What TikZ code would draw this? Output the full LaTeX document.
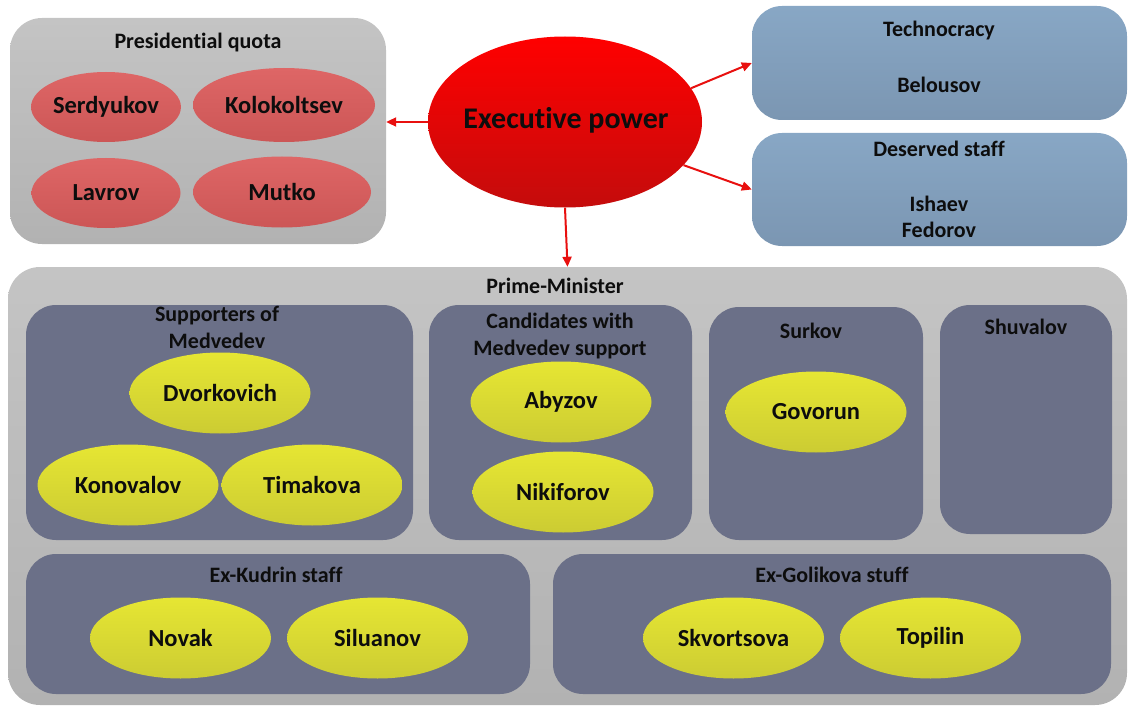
\documentclass[tikz,border=0pt]{standalone}
\usepackage{fontspec}
\setmainfont{Carlito}[Ligatures=CommonOff]
\usetikzlibrary{arrows.meta,shapes.geometric}
\definecolor{grayA}{HTML}{C4C4C4}
\definecolor{grayB}{HTML}{B2B2B2}
\definecolor{redA}{HTML}{DE6666}
\definecolor{redB}{HTML}{CC5656}
\definecolor{exA}{HTML}{FF0000}
\definecolor{exB}{HTML}{C40C0C}
\definecolor{blueA}{HTML}{88A7C5}
\definecolor{blueB}{HTML}{7B96B2}
\definecolor{slate}{HTML}{6B7088}
\definecolor{yelA}{HTML}{E6E633}
\definecolor{yelB}{HTML}{CCCC33}
\definecolor{txt}{HTML}{0D0D0D}
\definecolor{arr}{HTML}{E8100F}
\tikzset{
  graybox/.style={rectangle, rounded corners=32pt, top color=grayA, bottom color=grayB, draw=none, inner sep=0pt},
  bluebox/.style={rectangle, rounded corners=30pt, top color=blueA, bottom color=blueB, draw=none, inner sep=0pt},
  slatebox/.style={rectangle, rounded corners=30pt, fill=slate, draw=none, inner sep=0pt},
  redell/.style={ellipse, top color=redA, bottom color=redB, draw=none, inner sep=0pt, text=txt, font=\bfseries\fontsize{24.5}{28}\selectfont},
  yelell/.style={ellipse, top color=yelA, bottom color=yelB, draw=none, inner sep=0pt, minimum width=181pt, minimum height=81pt, text=txt, font=\bfseries\fontsize{24.5}{28}\selectfont},
  head/.style={text=txt, inner sep=0pt, align=center, font=\bfseries\fontsize{22}{27}\selectfont},
  link/.style={draw=arr, line width=2pt, -{Triangle[length=10pt,width=9pt]}}
}
\begin{document}
\begin{tikzpicture}[x=1pt,y=-1pt]
\useasboundingbox (0,0) rectangle (1128,706);
% Presidential quota
\node[graybox, minimum width=376pt, minimum height=226pt] (pq) at (198,131) {};
\node[head] (pqt) at (198,43) {Presidential quota};
\node[redell, minimum width=148pt, minimum height=70pt] (serd) at (106,107) {Serdyukov};
\node[redell, minimum width=182pt, minimum height=74pt] (kolo) at (284,105) {Kolokoltsev};
\node[redell, minimum width=149pt, minimum height=70pt] (lavr) at (106,193) {Lavrov};
\node[redell, minimum width=178pt, minimum height=71pt] (mutk) at (282,192) {Mutko};
% Executive power
\node[ellipse, top color=exA, bottom color=exB, minimum width=274pt, minimum height=171pt, inner sep=0pt] (exec) at (565,122) {};
\node[text=txt, inner sep=0pt, font=\bfseries\fontsize{30}{34}\selectfont] (exect) at (566,120) {Executive power};
% Technocracy
\node[bluebox, minimum width=375pt, minimum height=114pt] (tech) at (939.5,63) {};
\node[head] (techt) at (939,31) {Technocracy};
\node[head] (belo) at (939,85) {Belousov};
% Deserved staff
\node[bluebox, minimum width=375pt, minimum height=113pt] (dese) at (939.5,189.5) {};
\node[head] (deset) at (939,149) {Deserved staff};
\node[head] (isha) at (939,204) {Ishaev};
\node[head] (fedo) at (939,230) {Fedorov};
% Prime-Minister
\node[graybox, minimum width=1119pt, minimum height=438pt] (pm) at (567.5,486) {};
\node[head] (pmt) at (555,286) {Prime-Minister};
% inner boxes
\node[slatebox, minimum width=387pt, minimum height=235pt] (supp) at (219.5,422.5) {};
\node[head] (suppt) at (217,327) {Supporters of\\Medvedev};
\node[yelell] (dvor) at (220,393) {Dvorkovich};
\node[yelell] (kono) at (128,485) {Konovalov};
\node[yelell] (tima) at (312,485) {Timakova};
\node[slatebox, minimum width=263pt, minimum height=235pt] (cand) at (560.5,422.5) {};
\node[head] (candt) at (560,336) {Candidates with\\Medvedev support};
\node[yelell] (abyz) at (561,402) {Abyzov};
\node[yelell] (niki) at (563,492) {Nikiforov};
\node[slatebox, minimum width=214pt, minimum height=233pt] (surk) at (816,423.5) {};
\node[head] (surkt) at (811,331) {Surkov};
\node[yelell] (govo) at (816,412) {Govorun};
\node[slatebox, minimum width=172pt, minimum height=229pt] (shuv) at (1026,419.5) {};
\node[head] (shuvt) at (1026,327) {Shuvalov};
\node[slatebox, minimum width=504pt, minimum height=140pt] (kudr) at (278,624) {};
\node[head] (kudrt) at (276,575) {Ex-Kudrin staff};
\node[yelell] (nova) at (180.5,638) {Novak};
\node[yelell] (silu) at (377.5,638) {Siluanov};
\node[slatebox, minimum width=558pt, minimum height=140pt] (goli) at (832,624) {};
\node[head] (golit) at (832,575) {Ex-Golikova stuff};
\node[yelell] (skvo) at (733.5,638) {Skvortsova};
\node[yelell] (topi) at (930.5,638) {Topilin};
% connectors
\draw[link] (exec.west) -- (pq.east |- exec.west);
\draw[link] (exec.15) -- (tech.west);
\draw[link] (exec.-20) -- (dese.west);
\draw[link] (exec.south) -- (pm.north);
\end{tikzpicture}
\end{document}
